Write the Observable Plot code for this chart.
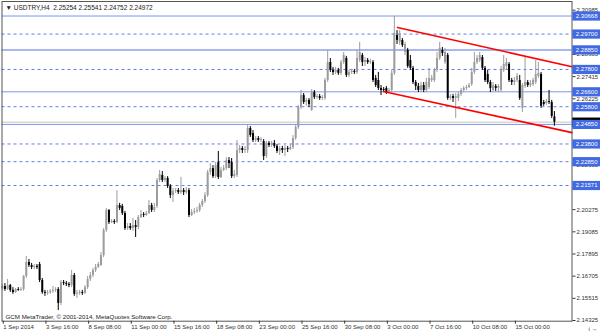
<!DOCTYPE html>
<html><head><meta charset="utf-8">
<script src="https://cdn.jsdelivr.net/npm/d3@7"></script>
<script src="https://cdn.jsdelivr.net/npm/@observablehq/plot@0.6"></script>
<style>
html,body{margin:0;padding:0;background:#fff;}
#chart svg{display:block;}
</style></head><body><div id="chart"></div>
<script>
// ---- data (USDTRY, H4 bars) ----
const titleText = "\u25BC USDTRY,H4  2.25254 2.25541 2.24752 2.24972";
const copyrightText = "GCM MetaTrader, \u00A9 2001-2014, MetaQuotes Software Corp.";

const open = [
2.1604,2.1615,2.1599,2.1620,2.1594,2.1583,2.1599,2.1594,2.1599,2.1669,
2.1744,2.1728,2.1717,2.1723,2.1733,2.1647,2.1583,2.1578,2.1583,2.1589,
2.1594,2.1599,2.1524,2.1636,2.1631,2.1626,2.1620,2.1674,2.1573,2.1578,
2.1583,2.1578,2.1609,2.1653,2.1674,2.1701,2.1717,2.1728,2.1781,2.1916,
2.2023,2.1958,2.1964,2.1958,2.2050,2.2045,2.2007,2.1926,2.1937,2.1926,
2.1942,2.1932,2.1985,2.2001,2.1996,2.2007,2.2050,2.2023,2.2045,2.2184,
2.2211,2.2184,2.2195,2.2152,2.2103,2.2125,2.2130,2.2119,2.2130,2.2119,
2.2130,2.1996,2.2012,2.2018,2.2023,2.2050,2.2071,2.2103,2.2227,2.2248,
2.2205,2.2280,2.2200,2.2238,2.2248,2.2291,2.2280,2.2205,2.2211,2.2345,
2.2356,2.2345,2.2345,2.2463,2.2436,2.2399,2.2409,2.2399,2.2393,2.2313,
2.2383,2.2372,2.2383,2.2367,2.2340,2.2356,2.2345,2.2356,2.2350,2.2361,
2.2409,2.2468,2.2576,2.2640,2.2603,2.2614,2.2560,2.2656,2.2630,2.2635,
2.2624,2.2624,2.2721,2.2817,2.2775,2.2764,2.2775,2.2759,2.2817,2.2839,
2.2748,2.2764,2.2770,2.2764,2.2828,2.2855,2.2817,2.2828,2.2817,2.2817,
2.2732,2.2721,2.2678,2.2672,2.2678,2.2656,2.2667,2.2759,2.2962,2.2925,
2.2936,2.2871,2.2882,2.2828,2.2786,2.2710,2.2689,2.2667,2.2694,2.2667,
2.2683,2.2721,2.2721,2.2775,2.2839,2.2882,2.2817,2.2855,2.2624,2.2635,
2.2624,2.2624,2.2646,2.2667,2.2678,2.2683,2.2699,2.2764,2.2817,2.2828,
2.2844,2.2786,2.2753,2.2710,2.2667,2.2689,2.2678,2.2667,2.2775,2.2796,
2.2807,2.2721,2.2710,2.2721,2.2721,2.2571,2.2689,2.2710,2.2694,2.2699,
2.2710,2.2743,2.2753,2.2603,2.2597,2.2608,2.2603,2.25254];
const high = [
2.1626,2.1631,2.1653,2.1626,2.1609,2.1604,2.1609,2.1609,2.1674,2.1776,
2.1760,2.1739,2.1733,2.1733,2.1744,2.1658,2.1594,2.1594,2.1599,2.1615,
2.1609,2.1609,2.1647,2.1647,2.1642,2.1636,2.1701,2.1685,2.1594,2.1594,
2.1594,2.1620,2.1669,2.1690,2.1712,2.1733,2.1744,2.1797,2.1926,2.2034,
2.2028,2.1974,2.1974,2.2130,2.2061,2.2056,2.2018,2.1953,2.1953,2.1980,
2.1969,2.1996,2.2023,2.2012,2.2018,2.2077,2.2061,2.2061,2.2195,2.2238,
2.2232,2.2205,2.2205,2.2162,2.2141,2.2141,2.2141,2.2200,2.2141,2.2146,
2.2141,2.2028,2.2034,2.2039,2.2061,2.2082,2.2119,2.2238,2.2275,2.2264,
2.2280,2.2340,2.2254,2.2264,2.2307,2.2307,2.2302,2.2238,2.2399,2.2372,
2.2367,2.2367,2.2479,2.2474,2.2452,2.2420,2.2420,2.2415,2.2404,2.2393,
2.2393,2.2393,2.2399,2.2377,2.2367,2.2367,2.2372,2.2367,2.2377,2.2425,
2.2479,2.2587,2.2667,2.2651,2.2624,2.2624,2.2672,2.2667,2.2646,2.2646,
2.2640,2.2732,2.2882,2.2839,2.2791,2.2791,2.2786,2.2828,2.2871,2.2850,
2.2775,2.2780,2.2780,2.2882,2.2925,2.2866,2.2844,2.2839,2.2834,2.2828,
2.2748,2.2764,2.2694,2.2683,2.2689,2.2678,2.2775,2.3066,2.2989,2.2989,
2.2946,2.2925,2.2893,2.2855,2.2796,2.2721,2.2705,2.2710,2.2710,2.2732,
2.2786,2.2748,2.2786,2.2871,2.2925,2.2898,2.2893,2.2866,2.2646,2.2646,
2.2651,2.2656,2.2678,2.2689,2.2694,2.2705,2.2786,2.2871,2.2855,2.2871,
2.2855,2.2796,2.2775,2.2721,2.2710,2.2699,2.2699,2.2796,2.2855,2.2839,
2.2817,2.2732,2.2737,2.2759,2.2748,2.2705,2.2844,2.2721,2.2721,2.2732,
2.2828,2.2817,2.2764,2.2614,2.2619,2.2667,2.2614,2.25541];
const low = [
2.1594,2.1589,2.1594,2.1583,2.1573,2.1578,2.1589,2.1589,2.1589,2.1658,
2.1717,2.1706,2.1706,2.1706,2.1636,2.1573,2.1562,2.1567,2.1573,2.1578,
2.1583,2.1486,2.1513,2.1620,2.1615,2.1609,2.1609,2.1562,2.1551,2.1567,
2.1567,2.1573,2.1599,2.1642,2.1663,2.1690,2.1712,2.1723,2.1770,2.1905,
2.1948,2.1953,2.1948,2.1953,2.2023,2.1996,2.1916,2.1916,2.1916,2.1911,
2.1878,2.1921,2.1980,2.1985,2.1991,2.2001,2.2012,2.2012,2.2034,2.2173,
2.2173,2.2173,2.2141,2.2087,2.2066,2.2114,2.2109,2.2109,2.2103,2.2109,
2.1985,2.1991,2.2001,2.2007,2.2012,2.2039,2.2061,2.2093,2.2211,2.2195,
2.2195,2.2189,2.2195,2.2232,2.2238,2.2248,2.2195,2.2195,2.2200,2.2329,
2.2329,2.2329,2.2329,2.2415,2.2388,2.2388,2.2388,2.2388,2.2291,2.2302,
2.2361,2.2361,2.2356,2.2329,2.2318,2.2329,2.2313,2.2334,2.2345,2.2350,
2.2399,2.2458,2.2565,2.2592,2.2582,2.2576,2.2555,2.2619,2.2619,2.2614,
2.2614,2.2614,2.2710,2.2764,2.2748,2.2753,2.2748,2.2748,2.2807,2.2737,
2.2737,2.2753,2.2753,2.2753,2.2817,2.2796,2.2796,2.2807,2.2807,2.2710,
2.2683,2.2667,2.2640,2.2656,2.2646,2.2651,2.2656,2.2748,2.2914,2.2909,
2.2898,2.2855,2.2786,2.2775,2.2699,2.2667,2.2656,2.2656,2.2656,2.2656,
2.2672,2.2710,2.2710,2.2764,2.2828,2.2850,2.2807,2.2614,2.2614,2.2603,
2.2517,2.2608,2.2635,2.2656,2.2667,2.2678,2.2689,2.2753,2.2807,2.2817,
2.2775,2.2710,2.2699,2.2656,2.2656,2.2662,2.2656,2.2656,2.2764,2.2775,
2.2710,2.2694,2.2694,2.2710,2.2614,2.2549,2.2678,2.2683,2.2683,2.2689,
2.2699,2.2732,2.2571,2.2582,2.2587,2.2592,2.2517,2.24752];
const close = [
2.1615,2.1599,2.1620,2.1594,2.1583,2.1599,2.1594,2.1599,2.1669,2.1744,
2.1728,2.1717,2.1723,2.1717,2.1647,2.1583,2.1578,2.1583,2.1589,2.1594,
2.1599,2.1524,2.1636,2.1631,2.1626,2.1620,2.1674,2.1573,2.1578,2.1583,
2.1578,2.1609,2.1653,2.1674,2.1701,2.1717,2.1733,2.1781,2.1916,2.2023,
2.1958,2.1964,2.1958,2.2050,2.2034,2.2007,2.1926,2.1937,2.1926,2.1942,
2.1932,2.1985,2.2001,2.1996,2.2007,2.2050,2.2023,2.2039,2.2184,2.2216,
2.2184,2.2195,2.2152,2.2103,2.2125,2.2130,2.2119,2.2130,2.2119,2.2130,
2.1996,2.2012,2.2018,2.2023,2.2050,2.2071,2.2103,2.2227,2.2248,2.2205,
2.2264,2.2200,2.2238,2.2248,2.2291,2.2275,2.2205,2.2216,2.2345,2.2356,
2.2345,2.2350,2.2463,2.2425,2.2399,2.2409,2.2399,2.2404,2.2313,2.2383,
2.2372,2.2383,2.2367,2.2340,2.2356,2.2345,2.2356,2.2350,2.2361,2.2409,
2.2468,2.2576,2.2640,2.2603,2.2614,2.2592,2.2656,2.2630,2.2635,2.2624,
2.2630,2.2721,2.2817,2.2775,2.2764,2.2775,2.2759,2.2817,2.2855,2.2748,
2.2764,2.2770,2.2764,2.2839,2.2871,2.2817,2.2828,2.2817,2.2823,2.2721,
2.2694,2.2678,2.2667,2.2667,2.2656,2.2667,2.2759,2.2973,2.2936,2.2973,
2.2909,2.2914,2.2796,2.2786,2.2710,2.2689,2.2667,2.2694,2.2667,2.2710,
2.2732,2.2732,2.2775,2.2839,2.2893,2.2866,2.2871,2.2624,2.2635,2.2624,
2.2635,2.2646,2.2667,2.2678,2.2683,2.2694,2.2764,2.2817,2.2839,2.2855,
2.2786,2.2721,2.2710,2.2678,2.2694,2.2678,2.2689,2.2775,2.2807,2.2817,
2.2721,2.2710,2.2721,2.2743,2.2624,2.2694,2.2710,2.2694,2.2705,2.2721,
2.2753,2.2759,2.2582,2.2592,2.2608,2.2603,2.2528,2.24972];

const timeLabels = ["1 Sep 2014","3 Sep 16:00","8 Sep 08:00","11 Sep 00:00","15 Sep 16:00","18 Sep 08:00","23 Sep 00:00","25 Sep 16:00","30 Sep 08:00","3 Oct 00:00","7 Oct 16:00","10 Oct 08:00","15 Oct 00:00"];
const timeLabelBars = [0,16,32,48,64,80,96,112,128,144,160,176,192];
const priceTicks = [2.14325,2.15515,2.16705,2.17895,2.19085,2.20275,2.21465,2.22655,2.23845,2.25035,2.26225,2.27415,2.28605,2.29795,2.30985];
const solidLevels = [2.30668,2.28850,2.26600,2.24850];
const dashedLevels = [2.29700,2.27800,2.25800,2.23800,2.22850,2.21571];
const bidPrice = 2.24972;
const channelTop = [[148.2,2.3005],[213.6,2.2795]];
const channelBottom = [[142.9,2.2662],[213.6,2.2441]];

// ---- layout ----
const W = 600, H = 333, mL = 1.5, mR = 28.5, mT = 1, mB = 12.3;
const xDomain = [-0.1, 213.6], yDomain = [2.14287, 2.31448];
const pxPerBar = (W - mL - mR) / (xDomain[1] - xDomain[0]);
const pxPerPrice = (H - mT - mB) / (yDomain[1] - yDomain[0]);
const boxX1 = xDomain[1] + 0.8 / pxPerBar, boxX2 = xDomain[1] + 28.5 / pxPerBar;

const bars = open.map((o,i)=>({i, o, h: high[i], l: low[i], c: close[i], up: close[i] > o}));
const labelByBar = new Map(timeLabelBars.map((b,k)=>[b, timeLabels[k]]));
const allLevels = [...dashedLevels, ...solidLevels, bidPrice];
// tick labels that sit fully under a level label box are not drawn (they are hidden in the reference)
const shownTicks = priceTicks.filter(t => allLevels.every(v => Math.abs(t - v) * pxPerPrice > 3.5));
const upColor = "#9c9c9c", downColor = "#000000", boxColor = "#4169e1";
const font = "'Liberation Sans', Arial, sans-serif";

const chart = Plot.plot({
  width: W, height: H,
  marginLeft: mL, marginRight: mR, marginTop: mT, marginBottom: mB,
  style: {fontFamily: font, color: "#333", background: "#fff", overflow: "visible"},
  x: {type: "linear", domain: xDomain},
  y: {type: "linear", domain: yDomain},
  marks: [
    Plot.ruleY([bidPrice], {stroke: "#c4c4c4", strokeWidth: 1}),
    Plot.ruleY(dashedLevels, {stroke: "#5f7fe6", strokeWidth: 1, strokeDasharray: "3,3"}),
    Plot.ruleY(solidLevels, {stroke: d => d === 2.2885 ? "#a8b8f2" : "#7c95ec", strokeWidth: d => d === 2.2885 ? 2 : 1}),
    Plot.ruleX(bars, {x: "i", y1: "l", y2: "h", stroke: d => d.up ? upColor : downColor, strokeWidth: 1}),
    Plot.ruleX(bars, {x: "i", y1: "o", y2: "c", stroke: d => d.up ? upColor : downColor, strokeWidth: 2}),
    Plot.line(channelTop, {x: d => d[0], y: d => d[1], stroke: "#ff0000", strokeWidth: 1.6}),
    Plot.line(channelBottom, {x: d => d[0], y: d => d[1], stroke: "#ff0000", strokeWidth: 1.6}),
    Plot.frame({stroke: "#555"}),
    Plot.axisX(timeLabelBars, {anchor: "bottom", tickSize: 3, tickPadding: 1, fontSize: 6, textAnchor: "start", dx: 1, tickFormat: d => labelByBar.get(d), stroke: "#333", fill: "#333"}),
    Plot.axisY(shownTicks, {anchor: "right", tickSize: 3, tickPadding: 1.5, fontSize: 6, tickFormat: d => d.toFixed(5), stroke: "#333", fill: "#333"}),
    // price-level boxes on the price scale
    Plot.ruleY([bidPrice], {x1: boxX1, x2: boxX2, stroke: "#000", strokeWidth: 9.2}),
    Plot.ruleY([...dashedLevels, ...solidLevels], {x1: boxX1, x2: boxX2, stroke: boxColor, strokeWidth: 9.2}),
    Plot.text([...dashedLevels, ...solidLevels], {x: xDomain[1], y: d => d, dx: 3.8, textAnchor: "start", fill: "#fff", fontSize: 6, text: d => d.toFixed(5)}),
    Plot.text([titleText], {frameAnchor: "top-left", dx: 3.5, dy: 3.5, fontSize: 6.5, fill: "#222", text: d => d}),
    Plot.text([copyrightText], {frameAnchor: "bottom-left", dx: 3.5, dy: -2.5, fontSize: 6.2, fill: "#222", text: d => d})
  ]
});
document.getElementById("chart").appendChild(chart);
</script></body></html>
